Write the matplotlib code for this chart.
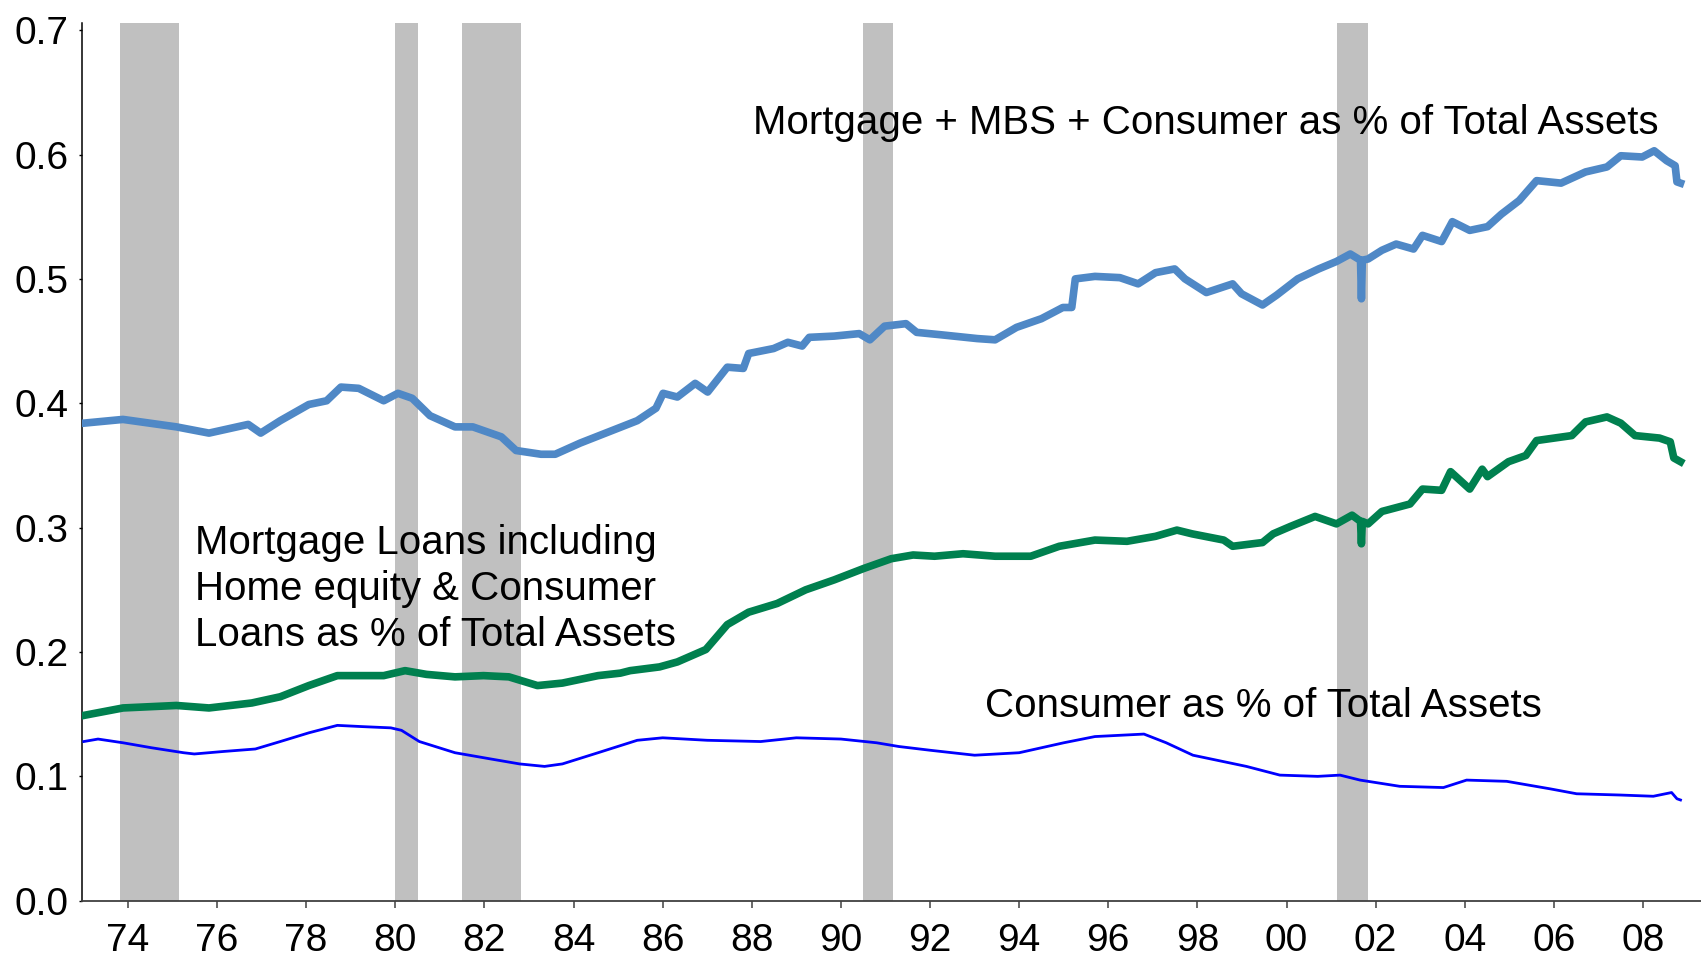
import matplotlib
matplotlib.use("Agg")
import matplotlib.pyplot as plt

plt.rcParams['font.family'] = ['Liberation Sans', 'DejaVu Sans']

# recession periods (start, end) in decimal years
recessions = [(1973.83, 1975.15), (1980.0, 1980.5), (1981.5, 1982.83),
              (1990.5, 1991.17), (2001.13, 2001.83)]

# Mortgage + MBS + Consumer as % of Total Assets
mbs_years = [1973.01, 1973.89, 1975.09, 1975.82, 1976.70, 1976.98, 1977.42, 1978.06,
             1978.46, 1978.78, 1979.18, 1979.74, 1980.06, 1980.38, 1980.78, 1981.34,
             1981.74, 1982.38, 1982.71, 1983.27, 1983.59, 1984.15, 1984.79, 1985.43,
             1985.85, 1986.01, 1986.33, 1986.73, 1987.01, 1987.45, 1987.81, 1987.93,
             1988.49, 1988.81, 1989.13, 1989.29, 1989.85, 1990.41, 1990.65, 1990.98,
             1991.46, 1991.70, 1992.26, 1993.06, 1993.46, 1993.94, 1994.50, 1994.98,
             1995.18, 1995.26, 1995.70, 1996.26, 1996.67, 1997.06, 1997.49, 1997.72,
             1998.20, 1998.79, 1998.99, 1999.46, 1999.78, 2000.25, 2000.72, 2001.12,
             2001.43, 2001.66, 2001.68, 2001.70, 2001.83, 2002.14, 2002.46, 2002.85,
             2003.05, 2003.48, 2003.72, 2004.11, 2004.51, 2004.82, 2005.22, 2005.61,
             2006.16, 2006.71, 2007.19, 2007.50, 2007.98, 2008.25, 2008.53, 2008.72,
             2008.76, 2008.84]
mbs_vals = [0.384, 0.387, 0.381, 0.376, 0.383, 0.376, 0.386, 0.399,
            0.402, 0.413, 0.412, 0.402, 0.408, 0.404, 0.390, 0.381,
            0.381, 0.373, 0.362, 0.359, 0.359, 0.368, 0.377, 0.386,
            0.396, 0.408, 0.405, 0.416, 0.409, 0.429, 0.428, 0.440,
            0.444, 0.449, 0.446, 0.453, 0.454, 0.456, 0.451, 0.462,
            0.464, 0.457, 0.455, 0.452, 0.451, 0.461, 0.468, 0.477,
            0.477, 0.500, 0.502, 0.501, 0.496, 0.505, 0.508, 0.500,
            0.489, 0.496, 0.488, 0.479, 0.487, 0.500, 0.508, 0.514,
            0.520, 0.515, 0.484, 0.515, 0.516, 0.523, 0.528, 0.524,
            0.535, 0.530, 0.546, 0.539, 0.542, 0.552, 0.563, 0.579,
            0.577, 0.586, 0.590, 0.599, 0.598, 0.603, 0.595, 0.591,
            0.578, 0.577]

# Mortgage loans incl. home equity & consumer loans as % of Total Assets
mtg_years = [1973.01, 1973.89, 1975.09, 1975.82, 1976.78, 1977.42, 1978.06, 1978.70,
             1979.34, 1979.74, 1980.22, 1980.70, 1981.34, 1981.98, 1982.55, 1983.19,
             1983.75, 1984.55, 1985.05, 1985.27, 1985.93, 1986.33, 1986.97, 1987.45,
             1987.93, 1988.57, 1989.21, 1989.85, 1990.50, 1991.13, 1991.62, 1992.10,
             1992.74, 1993.46, 1994.26, 1994.90, 1995.70, 1996.42, 1997.06, 1997.54,
             1997.88, 1998.59, 1998.79, 1999.46, 1999.70, 2000.09, 2000.64, 2001.12,
             2001.47, 2001.66, 2001.68, 2001.70, 2001.83, 2002.14, 2002.77, 2003.05,
             2003.48, 2003.68, 2004.11, 2004.39, 2004.51, 2004.98, 2005.37, 2005.61,
             2006.40, 2006.71, 2007.19, 2007.50, 2007.82, 2008.37, 2008.61, 2008.69,
             2008.84]
mtg_vals = [0.149, 0.155, 0.157, 0.155, 0.159, 0.164, 0.173, 0.181,
            0.181, 0.181, 0.185, 0.182, 0.180, 0.181, 0.180, 0.173,
            0.175, 0.181, 0.183, 0.185, 0.188, 0.192, 0.202, 0.222,
            0.232, 0.239, 0.250, 0.258, 0.267, 0.275, 0.278, 0.277,
            0.279, 0.277, 0.277, 0.285, 0.290, 0.289, 0.293, 0.298,
            0.295, 0.290, 0.285, 0.288, 0.295, 0.301, 0.309, 0.303,
            0.310, 0.305, 0.287, 0.305, 0.303, 0.313, 0.319, 0.331,
            0.330, 0.345, 0.331, 0.347, 0.341, 0.353, 0.358, 0.370,
            0.374, 0.385, 0.389, 0.384, 0.374, 0.372, 0.369, 0.356,
            0.353]

# Consumer as % of Total Assets
cons_years = [1973.01, 1973.33, 1973.89, 1974.53, 1975.25, 1975.49, 1976.14, 1976.86,
              1977.42, 1978.06, 1978.70, 1979.26, 1979.90, 1980.14, 1980.54, 1981.34,
              1982.14, 1982.79, 1983.35, 1983.75, 1984.55, 1985.43, 1986.0, 1987.0,
              1988.2, 1989.0, 1990.0, 1990.8, 1991.3, 1992.0, 1993.0, 1994.0,
              1995.0, 1995.7, 1996.8, 1997.3, 1997.9, 1999.1, 1999.85, 2000.7,
              2001.2, 2001.65, 2002.54, 2003.52, 2004.04, 2004.94, 2005.91, 2006.51,
              2007.48, 2008.23, 2008.64, 2008.76, 2008.84]
cons_vals = [0.128, 0.130, 0.127, 0.123, 0.119, 0.118, 0.120, 0.122,
             0.128, 0.135, 0.141, 0.140, 0.139, 0.137, 0.128, 0.119,
             0.114, 0.110, 0.108, 0.110, 0.119, 0.129, 0.131, 0.129,
             0.128, 0.131, 0.130, 0.127, 0.124, 0.121, 0.117, 0.119,
             0.127, 0.132, 0.134, 0.127, 0.117, 0.108, 0.101, 0.100,
             0.101, 0.097, 0.092, 0.091, 0.097, 0.096, 0.090, 0.086,
             0.085, 0.084, 0.087, 0.082, 0.081]

xticks = list(range(1974, 2009, 2))
xticklabels = ['%02d' % (y % 100) for y in xticks]

fig = plt.figure(figsize=(17.01, 9.57), dpi=100)
ax = fig.add_axes([0.0482, 0.0588, 0.9518, 0.9175])

for a, b in recessions:
    ax.axvspan(a, b, color='#c0c0c0', lw=0, zorder=1)

ax.plot(mbs_years, mbs_vals, color='#4f88c6', lw=5.5, zorder=3)
ax.plot(mtg_years, mtg_vals, color='#00804f', lw=5.5, zorder=3)
ax.plot(cons_years, cons_vals, color='#0000ff', lw=2.0, zorder=3)

ax.text(1988.03, 0.6255, 'Mortgage + MBS + Consumer as % of Total Assets',
        fontsize=29, va='center', ha='left', zorder=4)
ax.text(1975.51, 0.2505, 'Mortgage Loans including\nHome equity & Consumer\nLoans as % of Total Assets',
        fontsize=29, va='center', ha='left', linespacing=1.275, zorder=4)
ax.text(1993.24, 0.1565, 'Consumer as % of Total Assets',
        fontsize=29, va='center', ha='left', zorder=4)

ax.set_xlim(1972.97, 2009.3)
ax.set_ylim(0, 0.706)
ax.set_xticks(xticks)
ax.set_xticklabels(xticklabels)
ax.set_yticks([0, 0.1, 0.2, 0.3, 0.4, 0.5, 0.6, 0.7])
ax.set_yticklabels(['0.0', '0.1', '0.2', '0.3', '0.4', '0.5', '0.6', '0.7'])

ax.spines['top'].set_visible(False)
ax.spines['right'].set_visible(False)
ax.spines['left'].set_color('black')
ax.spines['bottom'].set_color('#404040')
ax.spines['left'].set_linewidth(1.1)
ax.spines['bottom'].set_linewidth(1.3)
ax.tick_params(axis='x', direction='out', length=5, width=1.1, color='#404040',
               labelsize=28, pad=11)
ax.tick_params(axis='y', direction='out', length=2.5, width=1.0, color='black',
               labelsize=28, pad=7)

fig.savefig('out.png', dpi=100)
